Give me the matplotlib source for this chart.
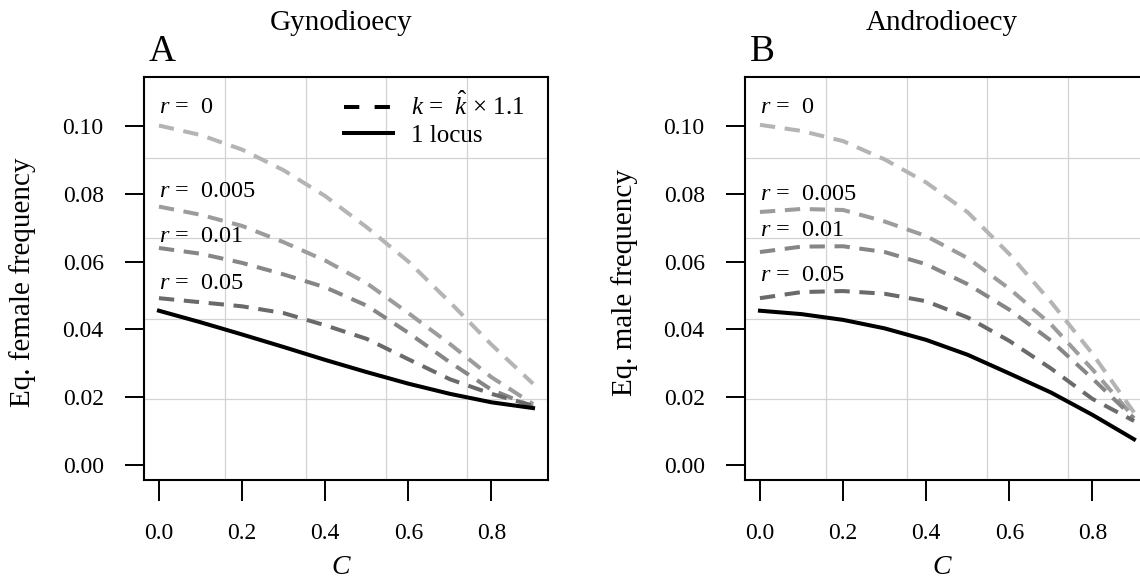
import matplotlib
matplotlib.use("Agg")
import matplotlib.pyplot as plt
from matplotlib.lines import Line2D

plt.rcParams["font.family"] = ["Liberation Serif", "DejaVu Serif"]
plt.rcParams["mathtext.fontset"] = "custom"
plt.rcParams["mathtext.rm"] = "Liberation Serif"
plt.rcParams["mathtext.it"] = "Liberation Serif:italic"

# --- data ---
C = [0.0, 0.1, 0.2, 0.3, 0.4, 0.5, 0.6, 0.7, 0.8, 0.9]
r_labels = ["0", "0.005", "0.01", "0.05"]

# Gynodioecy (panel A)
gyno_r0 = [0.1001, 0.0973, 0.0930, 0.0869, 0.0793, 0.0701, 0.0600, 0.0480, 0.0355, 0.0240]
gyno_r005 = [0.0762, 0.0738, 0.0705, 0.0657, 0.0603, 0.0536, 0.0448, 0.0357, 0.0259, 0.0180]
gyno_r01 = [0.0640, 0.0623, 0.0596, 0.0562, 0.0524, 0.0470, 0.0390, 0.0303, 0.0222, 0.0172]
gyno_r05 = [0.0492, 0.0480, 0.0468, 0.0448, 0.0412, 0.0372, 0.0312, 0.0253, 0.0210, 0.0175]
gyno_one = [0.0455, 0.0421, 0.0385, 0.0348, 0.0310, 0.0274, 0.0240, 0.0210, 0.0185, 0.0168]
gyno_text_y = [0.1055, 0.0805, 0.0675, 0.0535]

# Androdioecy (panel B)
andro_r0 = [0.1003, 0.0985, 0.0955, 0.0901, 0.0833, 0.0745, 0.0622, 0.0481, 0.0328, 0.0155]
andro_r005 = [0.0746, 0.0755, 0.0752, 0.0718, 0.0675, 0.0610, 0.0520, 0.0415, 0.0282, 0.0140]
andro_r01 = [0.0628, 0.0644, 0.0645, 0.0628, 0.0592, 0.0533, 0.0458, 0.0367, 0.0255, 0.0138]
andro_r05 = [0.0492, 0.0510, 0.0513, 0.0505, 0.0483, 0.0435, 0.0366, 0.0285, 0.0195, 0.0130]
andro_one = [0.0455, 0.0445, 0.0428, 0.0403, 0.0369, 0.0325, 0.0270, 0.0214, 0.0148, 0.0076]
andro_text_y = [0.1055, 0.0798, 0.0692, 0.0560]

xticks = [0.0, 0.2, 0.4, 0.6, 0.8]
yticks = [0.00, 0.02, 0.04, 0.06, 0.08, 0.10]

grays = ["#b4b4b4", "#9c9c9c", "#868686", "#6a6a6a"]
DASH = (3.8, 2.4)

W, H = 1140, 584
fig = plt.figure(figsize=(W / 100, H / 100), dpi=100)


def px_axes(left, top, right, bottom):
    return fig.add_axes([left / W, 1 - bottom / H, (right - left) / W, (bottom - top) / H])


def draw_panel(ax, series, one, text_y, legend):
    ax.set_xlim(-0.036, 0.936)
    ax.set_ylim(-0.0044, 0.1144)
    # R-style grid: 5 equal cells
    for i in range(1, 5):
        ax.axvline(-0.036 + i * 0.972 / 5, color="#d3d3d3", lw=0.9, zorder=0)
        ax.axhline(-0.0044 + i * 0.1188 / 5, color="#d3d3d3", lw=0.9, zorder=0)
    for ys, col in zip(series, grays):
        ax.plot(C, ys, color=col, lw=2.9, dashes=DASH, zorder=2)
    ax.plot(C, one, color="black", lw=2.9, zorder=3)
    for lab, ty in zip(r_labels, text_y):
        ax.text(0.0, ty, r"$r$ =  " + lab, fontsize=17.5, ha="left", va="center")
    ax.set_xticks(xticks)
    ax.set_xticklabels(["%.1f" % v for v in xticks])
    ax.set_yticks(yticks)
    ax.set_yticklabels(["%.2f" % v for v in yticks])
    ax.tick_params(axis="x", length=15, width=1.4, pad=16, labelsize=17)
    ax.tick_params(axis="y", length=14, width=1.4, pad=15, labelsize=17)
    for s in ax.spines.values():
        s.set_linewidth(1.5)
    if legend:
        handles = [
            Line2D([], [], color="black", lw=2.9, dashes=(3.8, 3.8)),
            Line2D([], [], color="black", lw=2.9),
        ]
        ax.legend(handles, [r"$k$ =  $\hat{k}$ × 1.1", "1 locus"],
                  loc="upper left", bbox_to_anchor=(0.495, 0.962),
                  frameon=False, fontsize=18, handlelength=1.95,
                  handletextpad=0.75, labelspacing=0.15, borderpad=0,
                  borderaxespad=0)


axA = px_axes(144, 77, 548, 480)
axB = px_axes(745, 77, 1149, 480)

draw_panel(axA, [gyno_r0, gyno_r005, gyno_r01, gyno_r05], gyno_one, gyno_text_y, True)
draw_panel(axB, [andro_r0, andro_r005, andro_r01, andro_r05], andro_one, andro_text_y, False)

# titles, panel letters, axis labels
fig.text(341 / W, 1 - 30 / H, "Gynodioecy", fontsize=21, ha="center", va="baseline")
fig.text(942 / W, 1 - 30 / H, "Androdioecy", fontsize=21, ha="center", va="baseline")
fig.text(149 / W, 1 - 61 / H, "A", fontsize=27, ha="left", va="baseline")
fig.text(750 / W, 1 - 61 / H, "B", fontsize=27, ha="left", va="baseline")
fig.text(23 / W, 1 - 282 / H, "Eq. female frequency", fontsize=21, rotation=90,
         ha="center", va="center")
fig.text(625 / W, 1 - 282 / H, "Eq. male frequency", fontsize=21, rotation=90,
         ha="center", va="center")
fig.text(341 / W, 1 - 567 / H, "C", fontsize=20, style="italic", ha="center", va="center")
fig.text(942 / W, 1 - 567 / H, "C", fontsize=20, style="italic", ha="center", va="center")

fig.savefig("out.png", dpi=100)
